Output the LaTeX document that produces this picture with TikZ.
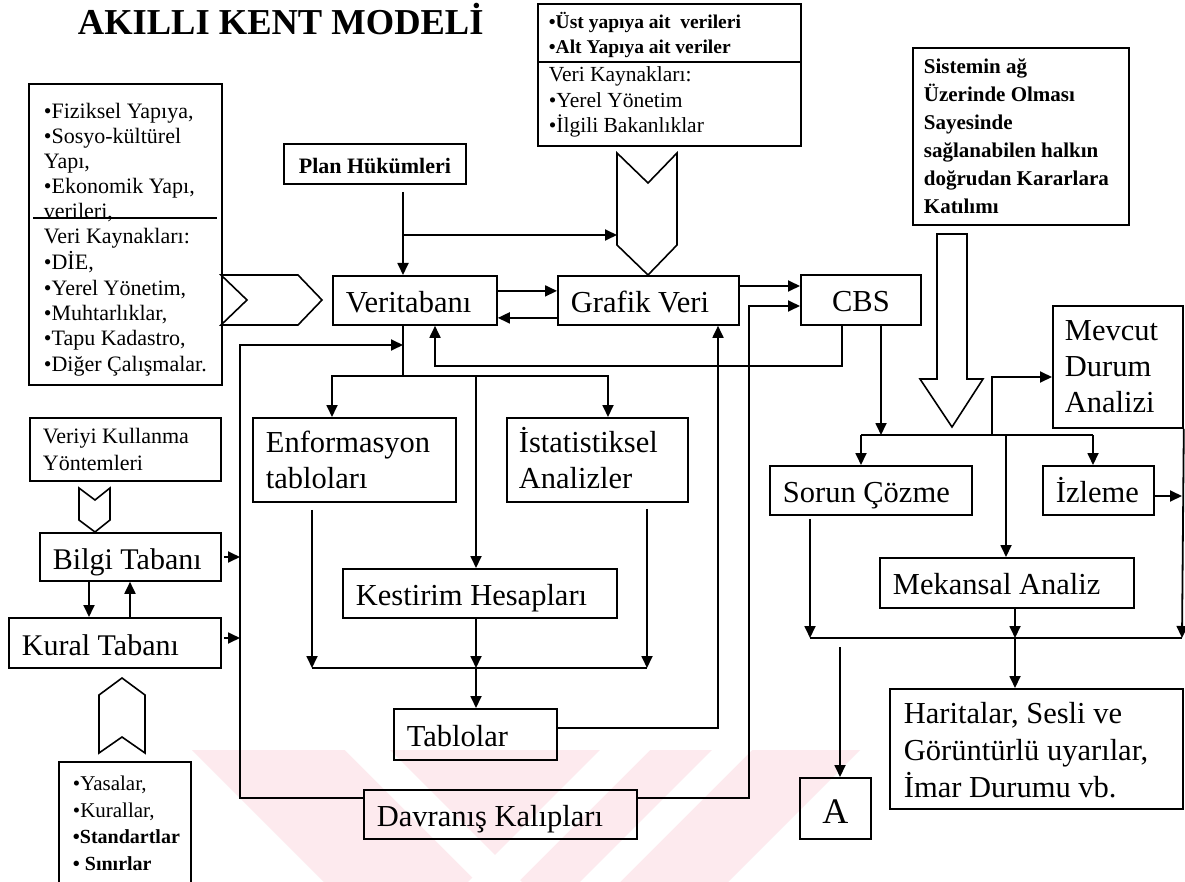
\documentclass[tikz,border=0pt]{standalone}
\usepackage{fontspec}
\setmainfont{Liberation Serif}
\usetikzlibrary{arrows.meta}
\newcommand{\linestack}[1]{\begin{tabular}{@{}l@{}}#1\end{tabular}}
\definecolor{wmpink}{RGB}{253,234,238}
\begin{document}
\begin{tikzpicture}[x=1pt,y=-1pt,line width=1.8pt,
  frame/.style={draw, line width=1.8pt, inner sep=0pt, anchor=north west},
  big/.style={font=\fontsize{30.5}{36}\selectfont, text height=23.8pt, text depth=0pt},
  txt/.style={anchor=north west, inner sep=0pt},
  arr/.style={-{Triangle[length=12pt,width=11pt]}},
  chev/.style={draw, line width=1.6pt, line join=miter}]
\fill[white] (0,0) rectangle (1185,882);
\useasboundingbox (0,0) rectangle (1185,882);

% faint watermark bands along the bottom
\fill[wmpink] (192,750) -- (860,750) -- (728,882) -- (324,882) -- cycle;
\fill[white] (345,750) -- (390,750) -- (522,882) -- (477,882) -- cycle;
\fill[white] (600,750) -- (650,750) -- (518,882) -- (468,882) -- cycle;
\fill[white] (712,750) -- (752,750) -- (620,882) -- (580,882) -- cycle;

% title
\node[anchor=base west, inner sep=0pt, font=\bfseries\fontsize{36.5}{42}\selectfont] (title) at (77,34.5) {AKILLI KENT MODELİ};

% ---------- data source boxes ----------
\node[frame, minimum width=193pt, minimum height=301pt] (fiz) at (28,83) {};
\draw (33,218) -- (217,218);
\node[txt, font=\fontsize{22}{24.9}\selectfont] (fizA) at (43,100.6)
  {\linestack{•Fiziksel Yapıya,\\ •Sosyo-kültürel\\ Yapı,\\ •Ekonomik Yapı,\\ verileri,}};
\node[txt, font=\fontsize{22}{25.4}\selectfont] (fizB) at (43,225.2)
  {\linestack{Veri Kaynakları:\\ •DİE,\\ •Yerel Yönetim,\\ •Muhtarlıklar,\\ •Tapu Kadastro,\\ •Diğer Çalışmalar.}};

\node[frame, minimum width=263pt, minimum height=142pt] (ust) at (537,3) {};
\draw (537,62) -- (800,62);
\node[txt, font=\bfseries\fontsize{19.5}{25}\selectfont] (ustA) at (548,10.5)
  {\linestack{•Üst yapıya ait\ \ verileri\\ •Alt Yapıya ait veriler}};
\node[txt, font=\fontsize{21.5}{25.5}\selectfont] (ustB) at (548,63.2)
  {\linestack{Veri Kaynakları:\\ •Yerel Yönetim\\ •İlgili Bakanlıklar}};

\node[frame, minimum width=182pt, minimum height=40pt,
  font=\bfseries\fontsize{22}{26}\selectfont, text height=20pt, text depth=0pt] (plan) at (283,143) {Plan Hükümleri};

\node[frame, minimum width=216pt, minimum height=177pt] (sistem) at (912,47) {};
\node[txt, font=\bfseries\fontsize{21}{28}\selectfont] (sistemtxt) at (923,53.4)
  {\linestack{Sistemin ağ\\ Üzerinde Olması\\ Sayesinde\\ sağlanabilen halkın\\ doğrudan Kararlara\\ Katılımı}};

% ---------- central chain ----------
\node[frame, big, minimum width=164pt, minimum height=49pt] (veri) at (332,275) {\makebox[138pt][l]{Veritabanı}};
\node[frame, big, minimum width=181pt, minimum height=49pt] (grafik) at (557,275) {\makebox[155pt][l]{Grafik Veri}};
\node[frame, big, minimum width=120pt, minimum height=50pt] (cbs) at (800,274) {CBS};

\node[frame, minimum width=203pt, minimum height=84pt] (enf) at (252,417) {};
\node[txt, font=\fontsize{30.5}{36}\selectfont] (enftxt) at (265,426.8) {\linestack{Enformasyon\\ tabloları}};
\node[frame, minimum width=181pt, minimum height=84pt] (ist) at (506,417) {};
\node[txt, font=\fontsize{30.5}{36}\selectfont] (isttxt) at (518,426.8) {\linestack{İstatistiksel\\ Analizler}};

\node[frame, big, minimum width=274pt, minimum height=49pt] (kes) at (342,568) {\makebox[248pt][l]{Kestirim Hesapları}};
\node[frame, big, minimum width=163pt, minimum height=51pt] (tab) at (393,708) {\makebox[137pt][l]{Tablolar}};
\node[frame, big, minimum width=273pt, minimum height=49pt] (dav) at (363,789) {\makebox[247pt][l]{Davranış Kalıpları}};

% ---------- left column ----------
\node[frame, minimum width=191pt, minimum height=63pt] (veriyi) at (29,417) {};
\node[txt, font=\fontsize{22}{27}\selectfont] (veriyitxt) at (42,424.1) {\linestack{Veriyi Kullanma\\ Yöntemleri}};
\node[frame, minimum width=181pt, minimum height=48pt,
  font=\fontsize{30}{36}\selectfont, text height=24.6pt, text depth=0pt] (bilgi) at (39,532) {\makebox[155pt][l]{Bilgi Tabanı}};
\node[frame, minimum width=212pt, minimum height=50pt,
  font=\fontsize{30}{36}\selectfont, text height=26pt, text depth=0pt] (kural) at (8,617) {\makebox[186pt][l]{Kural Tabanı}};
\draw (59,882) -- (59,762) -- (191,762) -- (191,882);
\node[txt, font=\fontsize{21}{26.5}\selectfont] (yastxt) at (72,771.5)
  {\linestack{•Yasalar,\\ •Kurallar,\\ \textbf{\fontsize{20}{26.5}\selectfont •Standartlar}\\ \textbf{\fontsize{20}{26.5}\selectfont • Sınırlar}}};

% ---------- right column ----------
\node[frame, minimum width=130pt, minimum height=122pt] (mev) at (1052,305) {};
\node[txt, font=\fontsize{30.5}{36}\selectfont] (mevtxt) at (1064,314.8) {\linestack{Mevcut\\ Durum\\ Analizi}};
\node[frame, big, minimum width=202pt, minimum height=49pt] (sorun) at (769,465) {\makebox[176pt][l]{Sorun Çözme}};
\node[frame, big, minimum width=111pt, minimum height=49pt] (izl) at (1042,465) {\makebox[85pt][l]{İzleme}};
\node[frame, big, minimum width=254pt, minimum height=50pt] (mek) at (879,557) {\makebox[228pt][l]{Mekansal Analiz}};
\node[frame, minimum width=293pt, minimum height=120pt] (har) at (889,688) {};
\node[txt, font=\fontsize{30.5}{37}\selectfont] (hartxt) at (903,697.1)
  {\linestack{Haritalar, Sesli ve\\ Görüntürlü uyarılar,\\ İmar Durumu vb.}};
\node[frame, minimum width=71pt, minimum height=61pt,
  font=\fontsize{36}{42}\selectfont, text height=31pt, text depth=0pt] (abox) at (799,777) {A};

% ---------- block arrows ----------
\draw[chev] (221,275) -- (298,275) -- (322,300) -- (298,325) -- (221,325) -- (247,300) -- cycle;
\draw[chev] (617,153) -- (648,183) -- (677,153) -- (677,245) -- (648,275) -- (617,245) -- cycle;
\draw[chev] (79,488) -- (95,500) -- (110,488) -- (110,520) -- (95,532) -- (79,520) -- cycle;
\draw[chev] (99,695) -- (122,678) -- (145,695) -- (145,753) -- (122,737) -- (99,753) -- cycle;
\draw[chev] (937,234) -- (967,234) -- (967,379) -- (983,379) -- (952,427) -- (920,379) -- (937,379) -- cycle;

% ---------- junction points ----------
\coordinate (pj) at (403,235);
\coordinate (chevin) at (617,235);
\coordinate (vx) at (403,345);
\coordinate (lb) at (240,798);
\coordinate (vs) at (403,376);
\coordinate (et) at (332,417);
\coordinate (it) at (608,417);
\coordinate (kt) at (476,376);
\coordinate (cr) at (842,366);
\coordinate (vr) at (435,366);
\coordinate (eb) at (312,668);
\coordinate (ib) at (647,668);
\coordinate (kb) at (476,668);
\coordinate (tg) at (718,728);
\coordinate (dc1) at (749,798);
\coordinate (dc2) at (749,306);
\coordinate (gc) at (738,286);
\coordinate (bk) at (240,557);
\coordinate (kk) at (240,638);
\coordinate (bd) at (89,600);
\coordinate (bu) at (130,600);
\coordinate (ch) at (881,435);
\coordinate (hl) at (861,435);
\coordinate (hr) at (1093,435);
\coordinate (mj) at (1006,435);
\coordinate (mv1) at (992,435);
\coordinate (mv2) at (992,377);
\coordinate (ir) at (1182,496);
\coordinate (bot) at (1182,638);
\coordinate (sb) at (810,638);
\coordinate (mb) at (1015,638);
\coordinate (aa) at (840,647);

% ---------- connectors ----------
\draw[arr] (pj |- plan.south) ++(0,7) -- (pj |- veri.north);
\draw[arr] (pj) -- (chevin);
\draw[arr] ([yshift=9.5pt]veri.east) -- ([yshift=9.5pt]grafik.west);
\draw[arr] ([yshift=-17.5pt]grafik.west) -- ([yshift=-17.5pt]veri.east);
\draw[arr] (gc) -- (gc -| cbs.west);
\draw[arr] (lb -| dav.west) -- (lb) |- (vx);
\draw (vs |- veri.south) -- (vs);
\draw[arr] (vs) -| (et);
\draw[arr] (vs) -| (it);
\draw[arr] (kt) -- (kt |- kes.north);
\draw[arr] (cr |- cbs.south) -- (cr) -- (vr) -- (vr |- veri.south);
\draw[arr] (eb |- enf.south) ++(0,7) -- (eb);
\draw (eb) -- (ib);
\draw[arr] (ib |- ist.south) ++(0,6) -- (ib);
\draw[arr] (kb |- kes.south) -- (kb);
\draw[arr] (kb) -- (kb |- tab.north);
\draw[arr] (tg -| tab.east) -- (tg) -- (tg |- grafik.south);
\draw[arr] (dc1 -| dav.east) -- (dc1) -- (dc2) -- (dc2 -| cbs.west);
\draw[arr] (bk -| bilgi.east) ++(2,0) -- (bk);
\draw[arr] (kk -| kural.east) ++(2,0) -- (kk);
\draw[arr] (bd |- bilgi.south) -- (bd |- kural.north);
\draw[arr] (bu |- kural.north) -- (bu |- bilgi.south);
\draw[arr] (ch |- cbs.south) -- (ch);
\draw (hl) -- (hr);
\draw[arr] (hl) -- (hl |- sorun.north);
\draw[arr] (hr) -- (hr |- izl.north);
\draw[arr] (mj) -- (mj |- mek.north);
\draw[arr] (mv1) -- (mv2) -- (mv2 -| mev.west);
\draw[arr] (ir -| izl.east) -- (ir);
\draw[arr] (mev.south east) -- (bot);
\draw[arr] (sb |- sorun.south) ++(0,3) -- (sb);
\draw (sb) -- (bot);
\draw[arr] (mb |- mek.south) -- (mb);
\draw[arr] (mb) -- (mb |- har.north);
\draw[arr] (aa) -- (aa |- abox.north);
\end{tikzpicture}
\end{document}
